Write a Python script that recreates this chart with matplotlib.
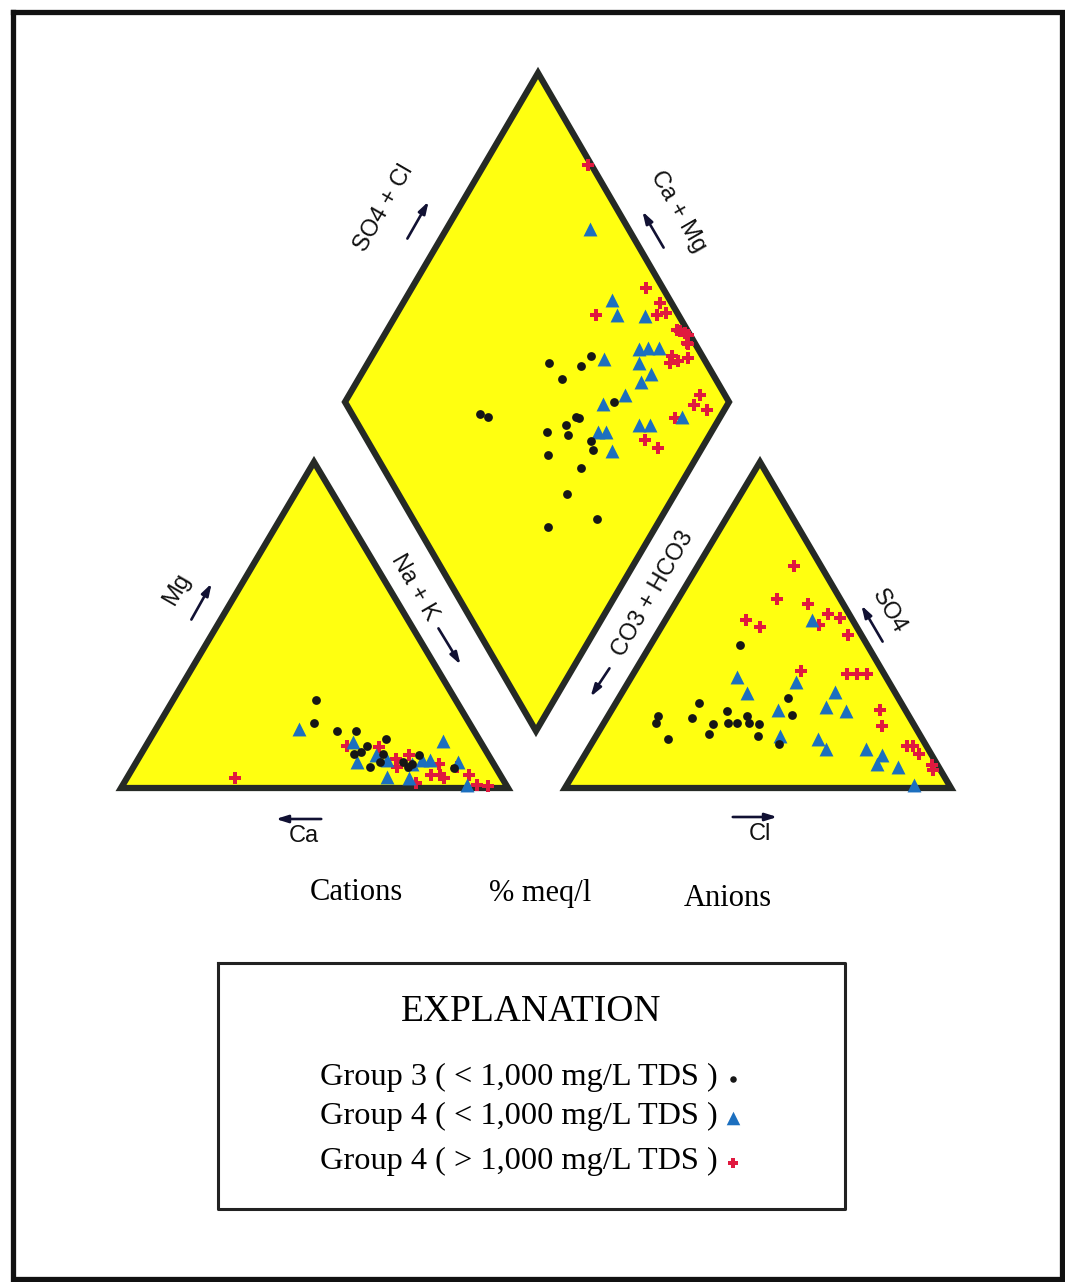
import matplotlib
matplotlib.use("Agg")
import matplotlib.pyplot as plt
import numpy as np

# --- data (percent meq/l) ---
# cation triangle: Mg %, Na+K %  (Ca = rest)
cat_g3_mg  = [27, 20, 17.5, 17.5, 15, 13, 11, 10.5, 10.5, 6.5, 8, 8, 6.5, 7.5, 10, 6]
cat_g3_nak = [37, 40, 47, 52, 61, 57, 56.5, 55, 62.5, 61, 63, 69, 71, 71.5, 72, 83]
cat_g4a_mg  = [18, 14, 10, 8, 8.5, 3.5, 3, 8.5, 8.5, 7.5, 14.5, 8, 1]
cat_g4a_nak = [37, 53, 61, 57, 64.5, 67, 73, 75.5, 73.5, 71.5, 76, 83, 89]
cat_g4b_mg  = [3, 13, 12.5, 9, 10, 6.5, 4, 7.5, 4, 3, 1.5, 6.5, 4, 1, 0.5]
cat_g4b_nak = [28, 52, 60.5, 66.5, 69.5, 68, 78, 78.5, 80.5, 82, 75.5, 83.5, 88, 91.5, 94.5]

# anion triangle: SO4 %, Cl %  (CO3+HCO3 = rest)
an_g3_so4 = [44, 27.5, 26, 22, 20, 21.5, 23.5, 19.5, 20, 20, 22, 20, 19.5, 16, 16.5, 15, 13.5, 22.5]
an_g3_cl  = [23, 44, 21.5, 13, 13.5, 22, 30, 28.5, 32, 34.5, 36, 37.5, 40.5, 42, 29, 19, 48.5, 47.5]
an_g4a_so4 = [51.5, 34, 32.5, 29, 29.5, 25, 24, 23.5, 16, 15, 12, 12, 10, 7.5, 6.5, 1]
an_g4a_cl  = [38, 27.5, 43.5, 32.5, 55, 55, 43, 61, 47.5, 58, 61.5, 72, 77, 77, 83, 90]
an_g4b_so4 = [68, 58, 56.5, 51.5, 49.5, 53.5, 52, 50, 47, 36, 35, 35, 35, 24, 19, 13, 13, 10.5, 7, 5.5]
an_g4b_cl  = [25, 25.5, 34.5, 21, 25.5, 41, 45, 40.5, 49.5, 43, 55.5, 58, 60.5, 69.5, 72.5, 82, 83.5, 86.5, 91.5, 92.5]

# diamond: Ca+Mg %, SO4+Cl %
dm_g3_camg = [53, 43, 44, 47, 63, 60.5, 30, 39, 37.5, 36.5, 43, 37, 30, 39, 28, 28.5, 28, 16.5, 28]
dm_g3_so4cl = [59, 71, 67, 60, 33.5, 35, 70, 54, 58, 58.5, 48, 53, 58, 45, 57.5, 51.5, 44, 48, 34]
dm_g4a_camg = [62.5, 46, 42.5, 35, 31.5, 29.5, 26.5, 29.5, 24.5, 26, 39, 28, 32.5, 10, 20, 17, 29.5, 27.5, 23]
dm_g4a_so4cl = [90, 85, 84, 91, 84.5, 87, 90, 82.5, 84, 80, 74, 74, 67, 85.5, 73, 76, 61.5, 63.5, 62]
dm_g4b_camg = [73, 39, 33, 48, 32, 30, 24.5, 22, 20, 23.5, 21, 19.5, 22, 19.5, 17.5, 21.5, 8.5, 8.5, 4.5, 11.5, 16, 11.5]
dm_g4b_so4cl = [99, 95.5, 97, 78.5, 94.5, 97, 97.5, 99, 98, 98, 99.5, 98, 92, 93, 96, 90.5, 93.5, 90.5, 93, 83.5, 72.5, 74.5]

legend_labels = ["Group 3 ( < 1,000 mg/L TDS )",
                 "Group 4 ( < 1,000 mg/L TDS )",
                 "Group 4 ( > 1,000 mg/L TDS )"]

# --- layout (pixel space) ---
W, H = 1065, 1282
cat_L, cat_R, cat_T = (121, 788), (508, 788), (314, 462)
an_L, an_R, an_T = (565, 788), (951, 788), (760, 462)
dm_B, dm_L, dm_R = (536, 731), (345, 402), (729, 402)
dm_T = (dm_L[0] + dm_R[0] - dm_B[0], dm_L[1] + dm_R[1] - dm_B[1])

YELLOW = "#ffff10"
EDGE = "#262a26"
BLUE = "#1c6fbf"
RED = "#e0193f"
BLACK = "#161616"


def tern(L, R, T, top, right):
    top = np.asarray(top) / 100.0
    right = np.asarray(right) / 100.0
    left = 1 - top - right
    x = left * L[0] + right * R[0] + top * T[0]
    y = left * L[1] + right * R[1] + top * T[1]
    return x, y


def diam(camg, so4cl):
    a = np.asarray(camg) / 100.0
    b = np.asarray(so4cl) / 100.0
    x = dm_B[0] + a * (dm_L[0] - dm_B[0]) + b * (dm_R[0] - dm_B[0])
    y = dm_B[1] + a * (dm_L[1] - dm_B[1]) + b * (dm_R[1] - dm_B[1])
    return x, y


fig = plt.figure(figsize=(W / 100, H / 100), dpi=100)
ax = fig.add_axes([0, 0, 1, 1])
ax.set_xlim(0, W)
ax.set_ylim(H, 0)
ax.axis("off")

# outer frame
ax.plot([13, 1062, 1062, 13, 13], [12, 12, 1279, 1279, 12], color="#111111", lw=3.8,
        solid_joinstyle="miter")

for poly in ([cat_L, cat_R, cat_T], [an_L, an_R, an_T], [dm_B, dm_R, dm_T, dm_L]):
    xs = [p[0] for p in poly]
    ys = [p[1] for p in poly]
    ax.fill(xs, ys, facecolor=YELLOW, edgecolor=EDGE, lw=4.5, joinstyle="miter", zorder=1)

groups = [
    (cat_g4b_mg, cat_g4b_nak, an_g4b_so4, an_g4b_cl, dm_g4b_camg, dm_g4b_so4cl, dict(marker="P", s=70, c=RED, linewidths=0)),
    (cat_g4a_mg, cat_g4a_nak, an_g4a_so4, an_g4a_cl, dm_g4a_camg, dm_g4a_so4cl, dict(marker="^", s=100, c=BLUE, linewidths=0)),
    (cat_g3_mg, cat_g3_nak, an_g3_so4, an_g3_cl, dm_g3_camg, dm_g3_so4cl, dict(marker="o", s=40, c=BLACK, linewidths=0)),
]
for cmg, cnak, aso4, acl, dcm, dsc, kw in groups:
    x, y = tern(cat_L, cat_R, cat_T, cmg, cnak)
    ax.scatter(x, y, zorder=3, **kw)
    x, y = tern(an_L, an_R, an_T, aso4, acl)
    ax.scatter(x, y, zorder=3, **kw)
    x, y = diam(dcm, dsc)
    ax.scatter(x, y, zorder=3, **kw)

# axis labels with arrows
sans = "Liberation Sans"
lab = dict(family=sans, fontsize=17, ha="center", va="center", color="#111111")
arr = dict(arrowstyle="-|>,head_length=0.7,head_width=0.22", color="#111133", lw=1.9)

ax.text(384, 208, "SO4 + Cl", rotation=60, **lab)
ax.annotate("", xy=(430, 199), xytext=(406, 241), arrowprops=arr)
ax.text(678, 212, "Ca + Mg", rotation=-60, **lab)
ax.annotate("", xy=(641, 209), xytext=(665, 250), arrowprops=arr)

ax.text(177, 589, "Mg", rotation=60, **lab)
ax.annotate("", xy=(213, 581), xytext=(190, 622), arrowprops=arr)
ax.text(414, 587, "Na + K", rotation=-60, **lab)
ax.annotate("", xy=(462, 667), xytext=(437, 626), arrowprops=arr)

ax.text(653, 594, "CO3 + HCO3", rotation=60, **lab)
ax.annotate("", xy=(589, 699), xytext=(611, 666), arrowprops=arr)
ax.text(889, 611, "SO4", rotation=-60, **lab)
ax.annotate("", xy=(860, 603), xytext=(884, 644), arrowprops=arr)

ax.text(304, 836, "Ca", **lab)
ax.annotate("", xy=(273, 819), xytext=(324, 819), arrowprops=arr)
ax.text(760, 834, "Cl", **lab)
ax.annotate("", xy=(780, 817), xytext=(730, 817), arrowprops=arr)

serif = "Liberation Serif"
ax.text(356, 893, "Cations", family=serif, fontsize=22, ha="center", va="center")
ax.text(540, 893, "% meq/l", family=serif, fontsize=22, ha="center", va="center")
ax.text(728, 899, "Anions", family=serif, fontsize=22, ha="center", va="center")

# explanation box
ax.plot([218, 845, 845, 218, 218], [963, 963, 1209, 1209, 963], color="#222222", lw=2.2)
ax.text(531, 1012, "EXPLANATION", family=serif, fontsize=27, ha="center", va="center")
ly = [1077, 1116, 1161]
mk = [dict(marker="o", s=22, c=BLACK), dict(marker="^", s=95, c=BLUE), dict(marker="P", s=55, c=RED)]
for t, yy, k in zip(legend_labels, ly, mk):
    ax.text(718, yy, t, family=serif, fontsize=23.3, ha="right", va="center")
    ax.scatter([733], [yy + 2], linewidths=0, zorder=3, **k)

fig.savefig("out.png", dpi=100)
